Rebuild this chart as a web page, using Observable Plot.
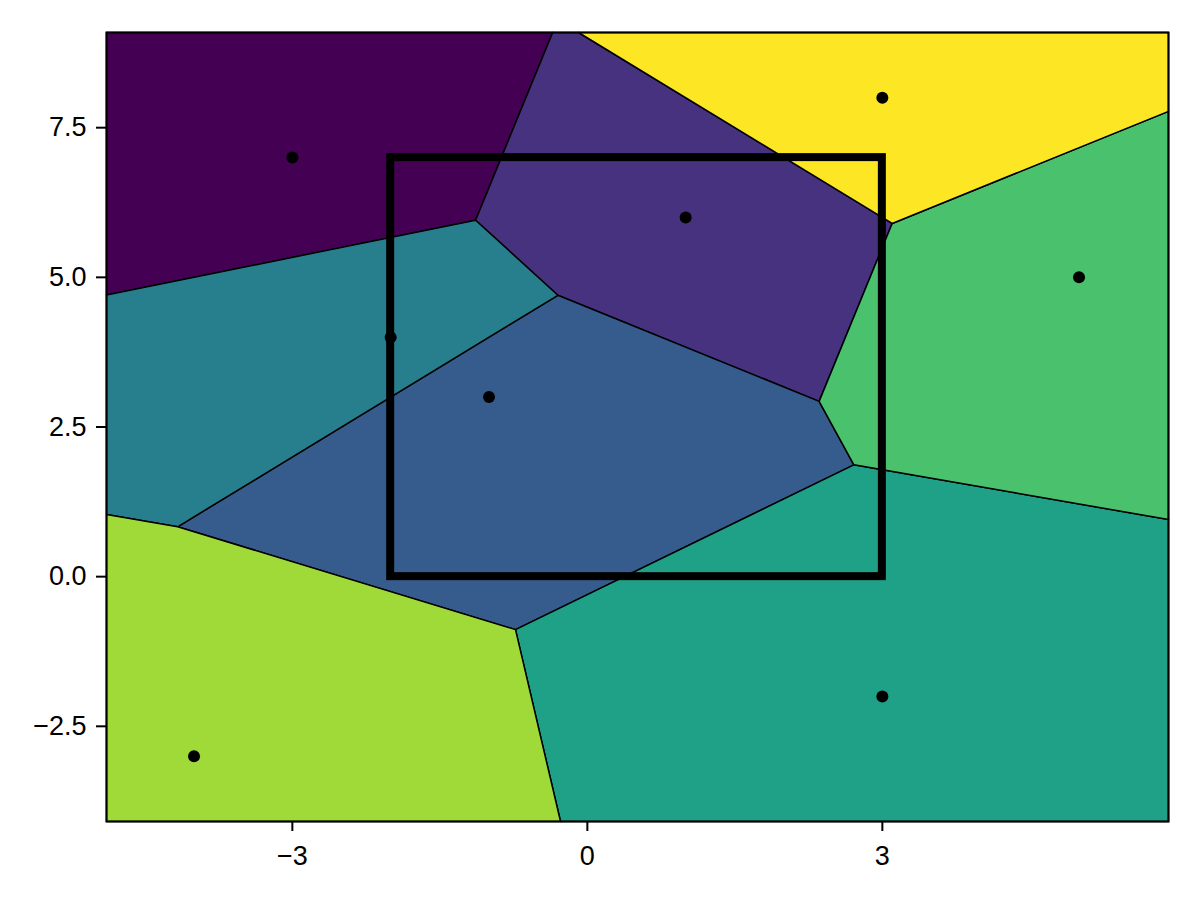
<!DOCTYPE html>
<html>
<head>
<meta charset="utf-8">
<script src="https://cdn.jsdelivr.net/npm/d3@7"></script>
<script src="https://cdn.jsdelivr.net/npm/@observablehq/plot@0.6"></script>
<style>
  html, body { margin: 0; padding: 0; background: #fff; }
  #chart { width: 1200px; height: 900px; }
</style>
</head>
<body>
<div id="chart"></div>
<script>
// Sites (in colour order, viridis from first to last)
const siteX = [-3, 1, -1, -2, 3, 5, -4, 3];
const siteY = [7, 6, 3, 4, -2, 5, -3, 8];

// Highlight rectangle
const boxX = [-2, 3];
const boxY = [0, 7];

// Axis extents and ticks
const xDomain = [-4.89, 5.91];
const yDomain = [-4.09, 9.09];
const xTicks = [-3, 0, 3];
const yTicks = [-2.5, 0, 2.5, 5, 7.5];

const sites = siteX.map((x, i) => ({x, y: siteY[i], k: i}));
const box = [{x1: boxX[0], x2: boxX[1], y1: boxY[0], y2: boxY[1]}];

// Voronoi tessellation computed in data space (not pixel space)
const delaunay = d3.Delaunay.from(sites, d => d.x, d => d.y);
const voronoi = delaunay.voronoi([xDomain[0], yDomain[0], xDomain[1], yDomain[1]]);
const cellPts = sites.flatMap((s, i) =>
  (voronoi.cellPolygon(i) || []).map(([x, y]) => ({x, y, k: i}))
);

const chart = Plot.plot({
  width: 1200,
  height: 900,
  marginLeft: 106,
  marginRight: 32,
  marginTop: 32,
  marginBottom: 79,
  style: {fontFamily: "'Liberation Sans', Arial, sans-serif", color: "black", background: "white"},
  x: {domain: xDomain, label: null},
  y: {domain: yDomain, label: null},
  color: {type: "linear", scheme: "viridis", domain: [0, siteX.length - 1]},
  marks: [
    Plot.line(cellPts, {x: "x", y: "y", z: "k", fill: "k", stroke: "black", strokeWidth: 1.5, strokeLinejoin: "round"}),
    Plot.rect(box, {x1: "x1", x2: "x2", y1: "y1", y2: "y2", fill: "none", stroke: "black", strokeWidth: 8}),
    Plot.dot(sites, {x: "x", y: "y", r: 6, fill: "black"}),
    Plot.frame({stroke: "black", strokeWidth: 2}),
    Plot.axisX({ticks: xTicks, tickSize: 10, tickPadding: 14, fontSize: 27, strokeWidth: 2, label: null, tickFormat: d3.format("d")}),
    Plot.axisY({ticks: yTicks, tickSize: 10, tickPadding: 10, fontSize: 27, strokeWidth: 2, label: null, tickFormat: d3.format(".1f")})
  ]
});
document.getElementById("chart").appendChild(chart);
</script>
</body>
</html>
